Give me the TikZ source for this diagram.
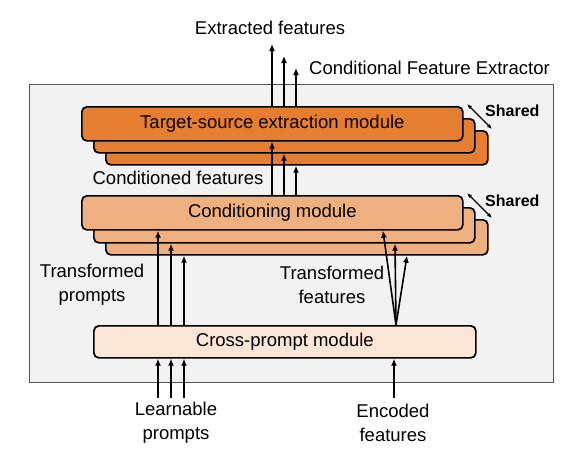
\documentclass[tikz,border=0pt]{standalone}
\usepackage{fontspec}
\setmainfont{Liberation Sans}
\usetikzlibrary{arrows.meta}
\definecolor{tsorange}{RGB}{230,126,50}
\definecolor{condorange}{RGB}{239,176,128}
\definecolor{crosspeach}{RGB}{251,229,214}
\definecolor{bggray}{RGB}{242,242,242}
\definecolor{framegray}{RGB}{85,85,85}
\tikzset{
  modbox/.style={draw=black, line width=1.7pt, rounded corners=5pt, inner sep=0pt, anchor=north west},
  lbl/.style={inner sep=0pt, font=\fontsize{18.5}{24}\selectfont, align=center},
  arr/.style={line width=1.6pt, -{Latex[length=7pt,width=6pt]}},
  sharedarr/.style={line width=1.1pt, {Latex[length=5pt,width=4pt]}-{Latex[length=5pt,width=4pt]}},
  sharedlbl/.style={inner sep=0pt, anchor=west, font=\fontsize{16}{18}\selectfont\bfseries},
}
\begin{document}
\begin{tikzpicture}[x=1pt,y=-1pt]
\useasboundingbox (0,0) rectangle (576,458);
% outer frame
\node[draw=framegray, fill=bggray, line width=1pt, minimum width=524pt, minimum height=298pt, inner sep=0pt, anchor=north west] (frame) at (29,84) {};
% target-source module (stacked)
\node[modbox, fill=tsorange, minimum width=382pt, minimum height=34pt] (ts3) at (105,130) {};
\node[modbox, fill=tsorange, minimum width=381pt, minimum height=34pt] (ts2) at (93,118) {};
\node[modbox, fill=tsorange, minimum width=381pt, minimum height=34pt, font=\fontsize{18.5}{22}\selectfont] (ts1) at (81,106) {Target-source extraction module};
% conditioning module (stacked)
\node[modbox, fill=condorange, minimum width=382pt, minimum height=35pt] (cm3) at (105,219) {};
\node[modbox, fill=condorange, minimum width=381pt, minimum height=35pt] (cm2) at (93,207) {};
\node[modbox, fill=condorange, minimum width=381pt, minimum height=34pt, font=\fontsize{18.5}{22}\selectfont] (cm1) at (81,195) {Conditioning module};
% cross-prompt module
\node[modbox, fill=crosspeach, minimum width=382pt, minimum height=32pt, font=\fontsize{18.5}{22}\selectfont] (cp) at (93,325) {Cross-prompt module};
% shared markers
\coordinate (sA1) at (467,104); \coordinate (sA2) at (492,129);
\draw[sharedarr] (sA1) -- (sA2);
\node[sharedlbl] (shared1) at (485,111) {Shared};
\coordinate (sB1) at (467,193); \coordinate (sB2) at (492,218);
\draw[sharedarr] (sB1) -- (sB2);
\node[sharedlbl] (shared2) at (485,201) {Shared};
% labels
\node[lbl] (extracted) at (270,28) {Extracted features};
\node[lbl, anchor=west] (cfe) at (309,68) {Conditional Feature Extractor};
\node[lbl] (condfeat) at (178,178) {Conditioned features};
\node[lbl] (tprompts) at (92,285) {Transformed\\prompts};
\node[lbl] (tfeat) at (332,285) {Transformed\\features};
\node[lbl] (learn) at (176,423) {Learnable\\prompts};
\node[lbl] (enc) at (393,423) {Encoded\\features};
% outputs
\coordinate (o1) at (272,44);
\coordinate (o2) at (284,56);
\coordinate (o3) at (296,68);
\draw[arr] (ts1.north -| o1) -- (o1);
\draw[arr] (ts1.north -| o2) -- (o2);
\draw[arr] (ts1.north -| o3) -- (o3);
% conditioning -> target-source
\draw[arr] (cm1.north -| o1) -- (ts1.south -| o1);
\draw[arr] (cm1.north -| o2) -- (ts2.south -| o2);
\draw[arr] (cm1.north -| o3) -- (ts3.south -| o3);
% cross-prompt -> conditioning (prompts)
\coordinate (p1) at (158,0);
\coordinate (p2) at (171,0);
\coordinate (p3) at (184,0);
\draw[arr] (cp.north -| p1) -- (cm1.south -| p1);
\draw[arr] (cp.north -| p2) -- (cm2.south -| p2);
\draw[arr] (cp.north -| p3) -- (cm3.south -| p3);
% cross-prompt -> conditioning (features)
\coordinate (fsrc) at (396,325);
\coordinate (f1) at (383,0);
\coordinate (f2) at (395,0);
\coordinate (f3) at (407,0);
\draw[arr] (fsrc) -- (cm1.south -| f1);
\draw[arr] (fsrc) -- (cm2.south -| f2);
\draw[arr] (fsrc) -- (cm3.south -| f3);
% inputs
\coordinate (in1) at (158,398);
\coordinate (in2) at (171,398);
\coordinate (in3) at (184,398);
\coordinate (in4) at (394,398);
\draw[arr] (in1) -- (cp.south -| in1);
\draw[arr] (in2) -- (cp.south -| in2);
\draw[arr] (in3) -- (cp.south -| in3);
\draw[arr] (in4) -- (cp.south -| in4);
\end{tikzpicture}
\end{document}
